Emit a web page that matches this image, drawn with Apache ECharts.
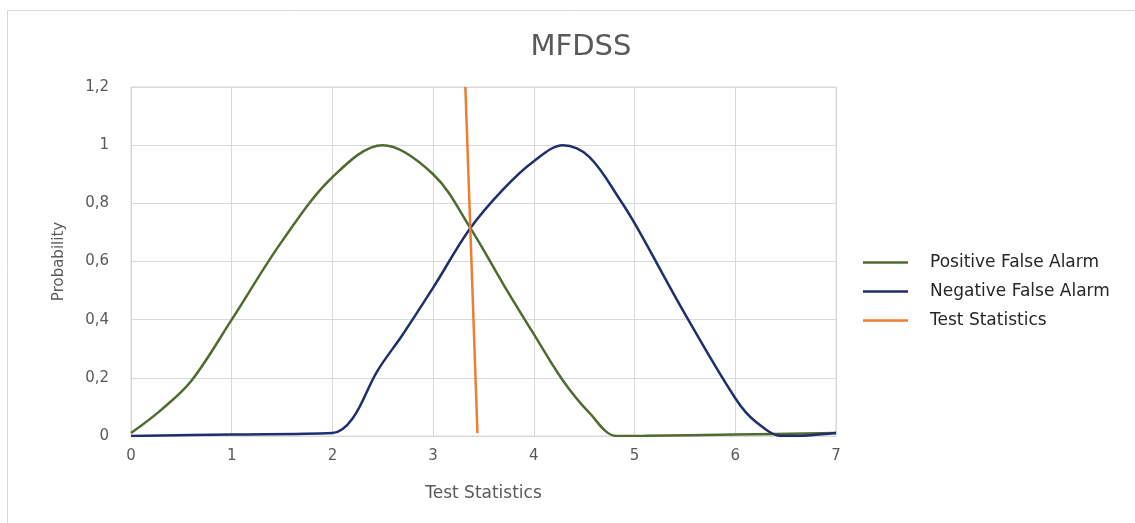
<!DOCTYPE html>
<html>
<head>
<meta charset="utf-8">
<script src="https://cdn.jsdelivr.net/npm/echarts@6/dist/echarts.min.js"></script>
<style>
  html, body { margin: 0; padding: 0; background: #fff; }
  #chart { width: 1135px; height: 523px; }
</style>
</head>
<body>
<div id="chart"></div>
<script>
// data: [test statistic, probability]
const positiveFalseAlarm = [
  [0, 0.01], [0.3, 0.09], [0.6, 0.19], [1, 0.4], [1.5, 0.67], [2, 0.89],
  [2.5, 1], [3, 0.9], [3.37, 0.715], [3.7, 0.52], [4, 0.35], [4.29, 0.19],
  [4.55, 0.08], [4.82, 0], [5.1, 0.001], [6, 0.005], [7, 0.01]
];
const negativeFalseAlarm = [
  [0, 0], [1, 0.005], [2, 0.01], [2.2, 0.06], [2.44, 0.22], [2.7, 0.35],
  [3, 0.51], [3.37, 0.715], [3.7, 0.85], [4, 0.945], [4.29, 1], [4.55, 0.96],
  [4.86, 0.81], [5.02, 0.72], [5.5, 0.42], [6, 0.13], [6.2, 0.05],
  [6.47, 0], [6.75, 0.003], [7, 0.01]
];
const testStatistics = [[3.32, 1.2], [3.44, 0.01]];

const seriesNames = ['Positive False Alarm', 'Negative False Alarm', 'Test Statistics'];
const seriesColors = ['#4f6b2f', '#1f2e6e', '#ed7d31'];

const font = 'DejaVu Sans';
const gray = '#595959';

const chart = echarts.init(document.getElementById('chart'));

chart.setOption({
  animation: false,
  color: seriesColors,
  title: {
    text: 'MFDSS',
    left: 576,
    textAlign: 'center',
    top: 28,
    textStyle: { fontFamily: font, fontSize: 29, fontWeight: 'normal', color: gray }
  },
  graphic: [{
    type: 'rect',
    shape: { x: 7.5, y: 10.5, width: 1200, height: 600 },
    style: { fill: 'none', stroke: '#d9d9d9', lineWidth: 1 },
    silent: true
  }],
  legend: {
    orient: 'vertical',
    left: 858,
    top: 249,
    icon: 'rect',
    itemWidth: 45,
    itemHeight: 2.5,
    itemGap: 12,
    data: seriesNames,
    textStyle: { fontFamily: font, fontSize: 17, color: '#262626', padding: [0, 0, 0, 17] }
  },
  grid: { left: 131, right: 299, top: 87, bottom: 87, show: true, borderColor: '#d9d9d9', borderWidth: 1 },
  xAxis: {
    type: 'value',
    min: 0, max: 7, interval: 1,
    name: 'Test Statistics',
    nameLocation: 'middle',
    nameGap: 49,
    nameTextStyle: { fontFamily: font, fontSize: 17, color: gray },
    axisLine: { show: true, lineStyle: { color: '#d9d9d9' } },
    axisTick: { show: false },
    axisLabel: { fontFamily: font, fontSize: 15, color: gray, margin: 13 },
    splitLine: { lineStyle: { color: '#d9d9d9' } }
  },
  yAxis: {
    type: 'value',
    min: 0, max: 1.2, interval: 0.2,
    name: 'Probability',
    nameLocation: 'middle',
    nameGap: 64,
    nameRotate: 90,
    nameTextStyle: { fontFamily: font, fontSize: 15, color: gray },
    axisLine: { show: false },
    axisTick: { show: false },
    axisLabel: {
      fontFamily: font, fontSize: 15, color: gray, margin: 22,
      formatter: v => String(Math.round(v * 10) / 10).replace('.', ',')
    },
    splitLine: { lineStyle: { color: '#d9d9d9' } }
  },
  series: [
    {
      name: seriesNames[0], type: 'line', data: positiveFalseAlarm,
      smooth: 0.35, showSymbol: false,
      lineStyle: { width: 2.5, color: seriesColors[0] }
    },
    {
      name: seriesNames[1], type: 'line', data: negativeFalseAlarm,
      smooth: 0.35, showSymbol: false,
      lineStyle: { width: 2.5, color: seriesColors[1] }
    },
    {
      name: seriesNames[2], type: 'line', data: testStatistics,
      showSymbol: false,
      lineStyle: { width: 2.5, color: seriesColors[2] }
    }
  ]
});
</script>
</body>
</html>
